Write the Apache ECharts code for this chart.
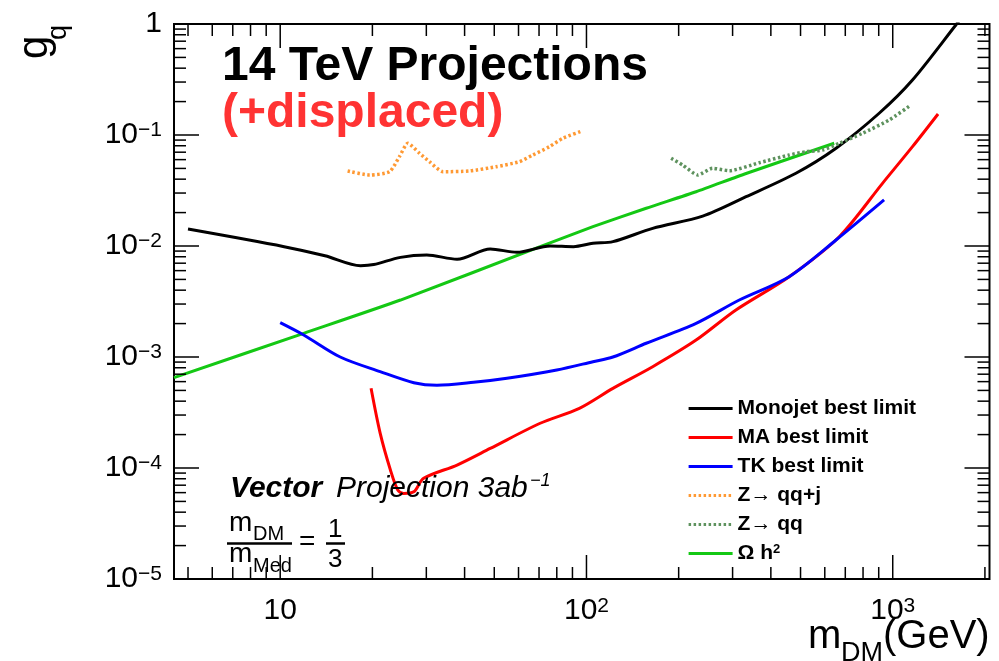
<!DOCTYPE html>
<html>
<head>
<meta charset="utf-8">
<script src="https://cdn.jsdelivr.net/npm/echarts@6/dist/echarts.min.js"></script>
<style>
  html, body { margin: 0; padding: 0; background: #fff; }
  #chart { width: 999px; height: 661px; }
</style>
</head>
<body>
<div id="chart"></div>
<script>
const FONT = '"Liberation Sans", Arial, Helvetica, sans-serif';

// Axis ranges (m_DM in GeV, g_q)
const X_MIN = 4.5, X_MAX = 2070;
const Y_MIN = 1e-5, Y_MAX = 1;

// Tick marks
const xMajorTicks = [10, 100, 1000];
const yMajorTicks = [1e-5, 1e-4, 1e-3, 1e-2, 1e-1, 1];
const minorMultipliers = [2, 3, 4, 5, 6, 7, 8, 9];
const xDecades = [1, 10, 100, 1000];
const yDecades = [1e-5, 1e-4, 1e-3, 1e-2, 1e-1];

// Monojet best limit
const monojetMass = [5, 10.3, 14, 18.3, 20.2, 24.7, 30.1, 37.8, 48.5, 59.3, 76.1, 90.7, 105, 122, 164.5, 239.6, 332, 483, 653, 903, 1160, 1607, 1750];
const monojetCoupling = [0.0142, 0.00986, 0.00817, 0.00665, 0.0068, 0.0079, 0.0083, 0.0076, 0.0094, 0.00877, 0.0100, 0.00986, 0.01057, 0.01094, 0.01443, 0.0186, 0.0278, 0.0452, 0.0759, 0.157, 0.313, 0.98, 1.33];

// MA best limit
const maMass = [19.8, 21.2, 22.9, 24.2, 25.3, 27.3, 29.4, 37.8, 48.5, 70.6, 94.8, 122, 164.5, 228, 307.6, 459, 669, 926, 1160, 1406];
const maCoupling = [5.22e-4, 2.06e-4, 9.6e-5, 6.34e-5, 5.9e-5, 6.1e-5, 8.07e-5, 1.064e-4, 1.5e-4, 2.53e-4, 3.45e-4, 5.22e-4, 8.18e-4, 1.42e-3, 2.65e-3, 5.29e-3, 1.213e-2, 3.67e-2, 7.85e-2, 0.1546];

// TK best limit
const tkMass = [10, 11.93, 15.7, 21.2, 27.3, 32.5, 42.8, 55, 80, 105, 122, 156.7, 228, 315.5, 459, 653, 937];
const tkCoupling = [2.04e-3, 1.58e-3, 1.0e-3, 7.38e-4, 5.87e-4, 5.56e-4, 5.91e-4, 6.43e-4, 7.64e-4, 9.07e-4, 1.0e-3, 1.33e-3, 2.01e-3, 3.26e-3, 5.29e-3, 1.133e-2, 2.6e-2];

// Z -> qq+j
const zqqjMass = [16.6, 19.6, 22.75, 24.5, 26.1, 28.5, 30.7, 34, 41.5, 50.7, 60.4, 66.8, 75.7, 83.7, 97];
const zqqjCoupling = [0.0474, 0.0436, 0.0467, 0.0638, 0.0842, 0.0684, 0.0575, 0.0467, 0.0474, 0.0518, 0.0575, 0.066, 0.0785, 0.0934, 0.109];

// Z -> qq
const zqqMass = [189, 206, 231, 258, 293, 367, 459, 521, 590, 669, 797, 974, 1146];
const zqqCoupling = [0.0617, 0.0537, 0.0436, 0.0501, 0.0477, 0.0563, 0.066, 0.0707, 0.0732, 0.0842, 0.1036, 0.1365, 0.186];

// Relic density (Omega h^2)
const relicMass = [4.5, 11.93, 24.7, 70.6, 105, 156.7, 228, 332, 644];
const relicCoupling = [6.51e-4, 1.635e-3, 3.26e-3, 9.86e-3, 1.493e-2, 2.19e-2, 3.08e-2, 4.5e-2, 8.42e-2];

const NAMES = ['Monojet best limit', 'MA best limit', 'TK best limit', 'Z\u2192 qq+j', 'Z\u2192 qq', '\u03A9 h2'];

const zip = (xs, ys) => xs.map((x, i) => [x, ys[i]]);

function curve(name, xs, ys, color, width, dash, smooth) {
  return {
    type: 'line', name, data: zip(xs, ys),
    showSymbol: false, symbol: 'none', smooth: smooth,
    clip: true, z: 3,
    lineStyle: { color, width, type: dash || 'solid' },
    itemStyle: { color }
  };
}

// tick list: [value, isMajor]
const xTicks = xMajorTicks.map(v => [v, true]);
xDecades.forEach(d => minorMultipliers.forEach(m => {
  const v = d * m;
  if (v > X_MIN && v < X_MAX) xTicks.push([v, false]);
}));
const yTicks = yMajorTicks.map(v => [v, true]);
yDecades.forEach(d => minorMultipliers.forEach(m => yTicks.push([d * m, false])));

function supFormat(exp) {
  return exp < 0 ? '\u2212' + (-exp) : String(exp);
}

function fontOf(size, opts) {
  return (opts.style || '') + ' ' + (opts.weight || 'normal') + ' ' + size + 'px ' + FONT;
}

// horizontal text placed by its baseline
function txt(text, x, baseline, size, opts) {
  opts = opts || {};
  return {
    type: 'text', x, y: baseline - 0.32 * size, z: 20, silent: true,
    style: {
      text, font: fontOf(size, opts), fill: opts.fill || '#000',
      textAlign: 'left', align: 'left', textVerticalAlign: 'middle', verticalAlign: 'middle'
    }
  };
}

// text turned 90 degrees, reading upward from (xMid, yStart)
function vtxt(text, xMid, yStart, size, opts) {
  opts = opts || {};
  return {
    type: 'text', x: xMid, y: yStart, rotation: Math.PI / 2, z: 20, silent: true,
    style: {
      text, font: fontOf(size, opts), fill: opts.fill || '#000',
      textAlign: 'left', align: 'left', textVerticalAlign: 'middle', verticalAlign: 'middle'
    }
  };
}

function hline(x1, x2, y, w) {
  return { type: 'line', shape: { x1, y1: y, x2, y2: y }, style: { stroke: '#000', lineWidth: w }, z: 20, silent: true };
}

const chart = echarts.init(document.getElementById('chart'), null, { renderer: 'canvas' });

chart.setOption({
  animation: false,
  backgroundColor: '#fff',
  grid: {
    left: 174, right: 9.5, top: 24, bottom: 82,
    show: true, borderColor: '#000', borderWidth: 2, backgroundColor: 'transparent'
  },
  xAxis: {
    type: 'log', logBase: 10, min: X_MIN, max: X_MAX,
    axisLine: { show: false }, axisTick: { show: false }, splitLine: { show: false },
    axisLabel: {
      margin: 17, showMinLabel: false, showMaxLabel: false,
      formatter: v => {
        const e = Math.round(Math.log10(v));
        if (Math.abs(Math.log10(v) - e) > 1e-6 || xMajorTicks.indexOf(Math.pow(10, e)) < 0) return '';
        return e === 1 ? '{b|10}' : '{b|10}{s|' + supFormat(e) + '}';
      },
      rich: {
        b: { fontFamily: FONT, fontSize: 30, lineHeight: 30, color: '#000', verticalAlign: 'top' },
        s: { fontFamily: FONT, fontSize: 21, lineHeight: 21, color: '#000', verticalAlign: 'top' }
      }
    }
  },
  yAxis: {
    type: 'log', logBase: 10, min: Y_MIN, max: Y_MAX,
    axisLine: { show: false }, axisTick: { show: false }, splitLine: { show: false },
    axisLabel: {
      margin: 12,
      formatter: v => {
        const e = Math.round(Math.log10(v));
        return e === 0 ? '{b|1}' : '{b|10}{s|' + supFormat(e) + '}';
      },
      rich: {
        b: { fontFamily: FONT, fontSize: 30, lineHeight: 30, color: '#000', verticalAlign: 'top' },
        s: { fontFamily: FONT, fontSize: 21, lineHeight: 21, color: '#000', verticalAlign: 'top' }
      }
    }
  },
  legend: {
    orient: 'vertical', left: 682, top: 393,
    itemWidth: 44, itemHeight: 21, itemGap: 8,
    selectedMode: false,
    itemStyle: { opacity: 0 },
    lineStyle: { width: 3.2 },
    data: NAMES,
    formatter: name => name === NAMES[5] ? '{n|\u03A9 h}{s|2}' : name,
    textStyle: {
      fontFamily: FONT, fontWeight: 'bold', fontSize: 21, color: '#000',
      rich: {
        n: { fontFamily: FONT, fontWeight: 'bold', fontSize: 21, lineHeight: 21, color: '#000', verticalAlign: 'top' },
        s: { fontFamily: FONT, fontWeight: 'bold', fontSize: 13, lineHeight: 13, color: '#000', verticalAlign: 'top' }
      }
    }
  },
  series: [
    curve(NAMES[5], relicMass, relicCoupling, '#14c814', 3, 'solid', 0.2),
    curve(NAMES[0], monojetMass, monojetCoupling, '#000000', 3, 'solid', 0.3),
    curve(NAMES[1], maMass, maCoupling, '#ff0000', 3, 'solid', 0.3),
    curve(NAMES[2], tkMass, tkCoupling, '#0000ff', 3, 'solid', 0.3),
    curve(NAMES[3], zqqjMass, zqqjCoupling, '#ff9933', 3.5, [2.5, 2.5], 0.2),
    curve(NAMES[4], zqqMass, zqqCoupling, '#5e925e', 3.5, [2.5, 2.5], 0.2),
    {
      type: 'custom', name: 'frame ticks', silent: true, z: 10, clip: false,
      data: [[10, 0.01]],
      renderItem: (params, api) => {
        const cs = params.coordSys;
        const left = cs.x, right = cs.x + cs.width, top = cs.y, bottom = cs.y + cs.height;
        const kids = [];
        const seg = (x1, y1, x2, y2) => kids.push({
          type: 'line', shape: { x1, y1, x2, y2 }, style: { stroke: '#000', lineWidth: 1.5 }
        });
        xTicks.forEach(([v, major]) => {
          const px = api.coord([v, Y_MIN])[0];
          const len = major ? 24 : 12;
          seg(px, bottom, px, bottom - len);
          seg(px, top, px, top + len);
        });
        yTicks.forEach(([v, major]) => {
          const py = api.coord([X_MIN, v])[1];
          const len = major ? 25 : 12;
          seg(left, py, left + len, py);
          seg(right, py, right - len, py);
        });
        return { type: 'group', children: kids };
      }
    }
  ],
  graphic: [
    txt('14 TeV Projections', 222, 82, 48, { weight: 'bold' }),
    txt('(+displaced)', 222, 129, 48, { weight: 'bold', fill: '#ff3333' }),
    txt('Vector', 230, 498, 30, { weight: 'bold', style: 'italic' }),
    txt('Projection 3ab', 336, 498, 30, { style: 'italic' }),
    txt('\u22121', 530, 487, 18, { style: 'italic' }),
    txt('m', 229, 532, 28),
    txt('DM', 253, 541, 20),
    hline(227, 292, 543.5, 2.5),
    txt('m', 229, 563, 28),
    txt('Med', 253, 573, 20),
    txt('=', 299, 551, 28),
    txt('1', 328, 538, 26),
    hline(326, 345, 543.5, 2.5),
    txt('3', 328, 568, 26),
    vtxt('g', 35, 59, 42),
    vtxt('q', 59, 40, 27),
    txt('m', 808, 650, 40),
    txt('DM', 841, 662, 27),
    txt('(GeV)', 883, 650, 40)
  ]
});
</script>
</body>
</html>
